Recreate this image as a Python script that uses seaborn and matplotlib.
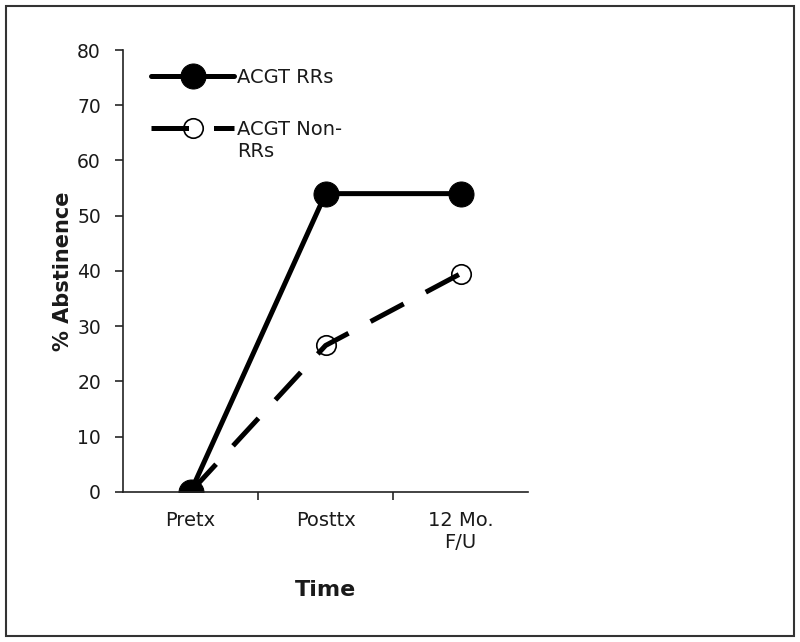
import numpy as np
import pandas as pd
import matplotlib
matplotlib.use("Agg")
import matplotlib.pyplot as plt
from matplotlib.patches import Rectangle
import seaborn as sns

# =========================
# DATA
# =========================
time_labels = ["Pretx", "Posttx", "12 Mo.\nF/U"]
rrs = [0, 54, 54]
non_rrs = [0, 26.5, 39.5]
series_names = ["ACGT RRs", "ACGT Non-"]
label_tail = "RRs"

pos = np.arange(len(time_labels))
df_rrs = pd.DataFrame({"x": pos, "y": rrs})
df_non = pd.DataFrame({"x": pos, "y": non_rrs})

# =========================
# STYLE
# =========================
sns.set_style("ticks")
plt.rcParams["font.family"] = ["DejaVu Sans"]
txt_color = "#1a1a1a"

fig = plt.figure(figsize=(8, 6.42), dpi=100)
ax = fig.add_axes([0.154, 0.234, 0.506, 0.688])

# =========================
# LINES
# =========================
sns.lineplot(
    data=df_non, x="x", y="y", ax=ax,
    color="black", linewidth=3.6,
    linestyle=(0, (7.5, 5.0)),
    marker="o", markersize=14,
    markerfacecolor="none", markeredgecolor="black",
    markeredgewidth=1.2,
    label=series_names[1]
)

sns.lineplot(
    data=df_rrs, x="x", y="y", ax=ax,
    color="black", linewidth=3.6,
    marker="o", markersize=18,
    markerfacecolor="black", markeredgecolor="black",
    label=series_names[0]
)

# =========================
# AXES
# =========================
ax.set_xlim(-0.5, 2.5)
ax.set_ylim(0, 80)
ax.set_yticks(np.arange(0, 81, 10))
ax.tick_params(axis="y", labelsize=13.5, direction="out", length=6,
               width=1.2, pad=10, labelcolor=txt_color)

ax.set_xticks([0.5, 1.5])
ax.set_xticklabels([])
ax.tick_params(axis="x", which="major", direction="out", length=6, width=1.2)
ax.set_xticks(pos, minor=True)
ax.set_xticklabels(time_labels, minor=True, fontsize=14, color=txt_color)
ax.tick_params(axis="x", which="minor", length=0, pad=14)

for s in ["left", "bottom"]:
    ax.spines[s].set_linewidth(1.2)
    ax.spines[s].set_color("#222222")
sns.despine(ax=ax)

ax.set_xlabel("Time", fontsize=16, fontweight="bold", labelpad=20,
              color=txt_color)
ax.set_ylabel("% Abstinence", fontsize=15, fontweight="bold", labelpad=3,
              color=txt_color)

# =========================
# LEGEND
# =========================
handles, labels = ax.get_legend_handles_labels()
leg = ax.legend(
    handles[::-1], labels[::-1],
    loc="upper left", bbox_to_anchor=(0.025, 1.0),
    frameon=False, fontsize=14, handlelength=4.3,
    handletextpad=0.15, labelspacing=1.7
)
for t in leg.get_texts():
    t.set_color(txt_color)

fig.canvas.draw()
bb = leg.get_texts()[1].get_window_extent().transformed(ax.transAxes.inverted())
ax.text(bb.x0, bb.y0 - 0.008, label_tail, transform=ax.transAxes,
        fontsize=14, va="top", ha="left", color=txt_color)

# figure border
fig.patches.append(Rectangle(
    (0.007, 0.01), 0.986, 0.98, transform=fig.transFigure,
    fill=False, linewidth=1.5, edgecolor="#333333"
))

fig.savefig("out.png", dpi=100)
plt.close(fig)
